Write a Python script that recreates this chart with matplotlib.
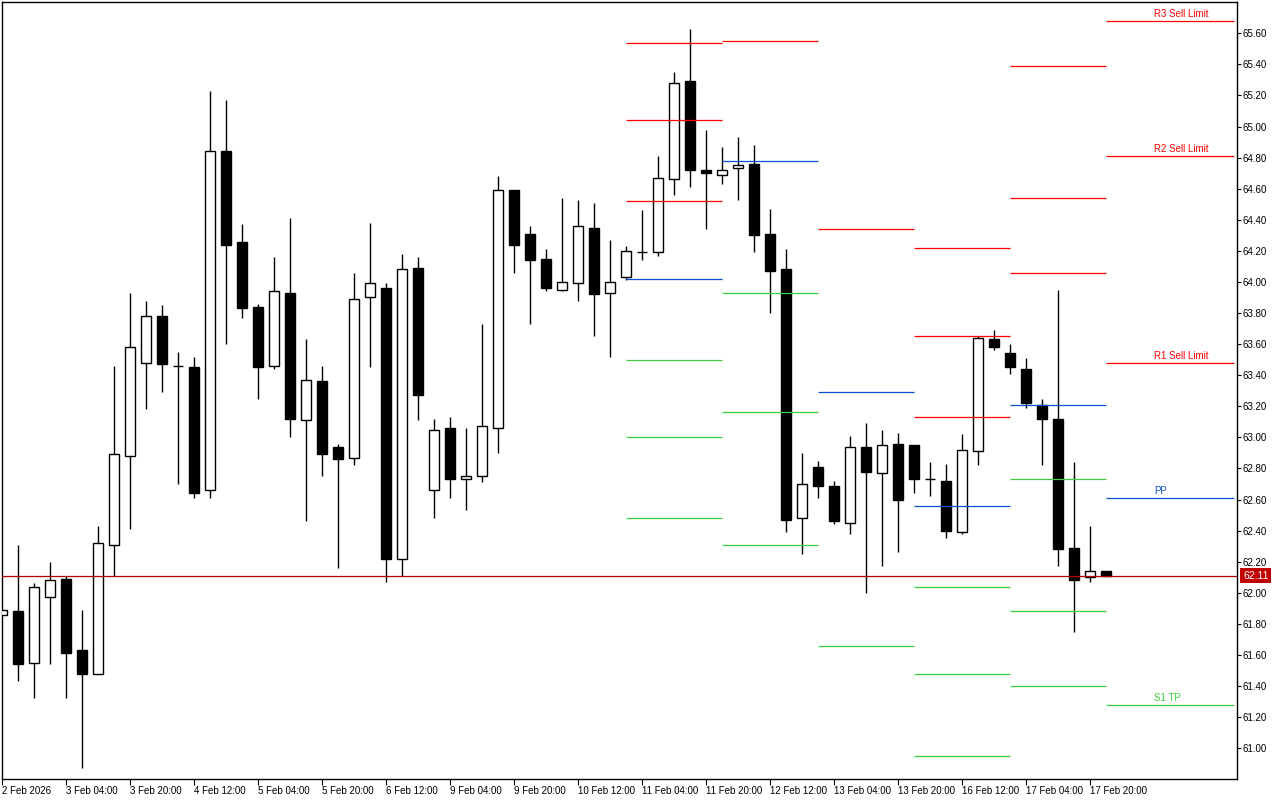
import matplotlib
matplotlib.use("Agg")
import matplotlib.pyplot as plt
from matplotlib.patches import Rectangle
import matplotlib.transforms as mtransforms

# ---------------- data ----------------
opens = [61.86, 61.88, 61.55, 61.97, 62.09, 61.63, 61.48, 62.31, 62.88, 63.48,
         63.78, 63.46, 63.45, 62.66, 64.84, 64.26, 63.84, 63.46, 63.93, 63.11,
         63.36, 62.94, 62.87, 63.90, 63.96, 62.22, 64.09, 62.66, 63.06, 62.73,
         62.75, 63.06, 64.59, 64.31, 64.15, 63.95, 63.99, 64.35, 63.93, 64.03,
         64.19, 64.19, 64.66, 65.29, 64.72, 64.69, 64.73, 64.76, 64.31, 64.08,
         62.48, 62.81, 62.69, 62.45, 62.94, 62.77, 62.96, 62.95, 62.73, 62.72,
         62.39, 62.91, 63.63, 63.54, 63.44, 63.21, 63.12, 62.29, 62.10, 62.14]
highs = [61.89, 62.31, 62.06, 62.20, 62.11, 61.89, 62.43, 63.46, 63.93, 63.88,
         63.85, 63.55, 63.52, 65.23, 65.17, 64.37, 63.86, 64.16, 64.41, 63.63,
         63.46, 62.96, 64.06, 64.38, 63.99, 64.18, 64.16, 63.12, 63.13, 63.06,
         63.73, 64.68, 64.59, 64.36, 64.21, 64.54, 64.53, 64.51, 64.27, 64.23,
         64.46, 64.81, 65.35, 65.63, 64.98, 64.87, 64.93, 64.88, 64.47, 64.21,
         62.90, 62.85, 62.72, 63.01, 63.09, 63.05, 63.03, 62.95, 62.84, 62.83,
         63.02, 63.65, 63.69, 63.60, 63.51, 63.25, 63.95, 62.84, 62.43, 62.14]
lows = [61.86, 61.43, 61.32, 61.54, 61.32, 60.87, 61.48, 62.11, 62.41, 63.18,
        63.29, 62.70, 62.61, 62.61, 63.60, 63.77, 63.25, 63.44, 63.00, 62.46,
        62.75, 62.16, 62.82, 63.45, 62.07, 62.11, 63.11, 62.48, 62.61, 62.53,
        62.71, 62.90, 64.06, 63.73, 63.94, 63.94, 63.88, 63.65, 63.52, 64.01,
        64.14, 64.17, 64.56, 64.61, 64.34, 64.63, 64.53, 64.19, 63.80, 62.39,
        62.25, 62.61, 62.44, 62.38, 62.00, 62.17, 62.26, 62.64, 62.62, 62.35,
        62.38, 62.82, 63.56, 63.41, 63.19, 62.82, 62.17, 61.75, 62.07, 62.11]
closes = [61.89, 61.54, 62.04, 62.08, 61.61, 61.48, 62.32, 62.89, 63.58, 63.78,
          63.47, 63.46, 62.64, 64.84, 64.24, 63.83, 63.45, 63.94, 63.12, 63.37,
          62.89, 62.86, 63.89, 63.99, 62.22, 64.08, 63.27, 63.05, 62.73, 62.75,
          63.07, 64.59, 64.24, 64.14, 63.96, 64.00, 64.36, 63.92, 64.00, 64.20,
          64.19, 64.67, 65.28, 64.72, 64.70, 64.72, 64.75, 64.30, 64.07, 62.47,
          62.70, 62.69, 62.46, 62.94, 62.78, 62.95, 62.60, 62.73, 62.73, 62.40,
          62.92, 63.64, 63.58, 63.45, 63.22, 63.12, 62.28, 62.08, 62.14, 62.11]

x_tick_labels = ["2 Feb 2026", "3 Feb 04:00", "3 Feb 20:00", "4 Feb 12:00",
                 "5 Feb 04:00", "5 Feb 20:00", "6 Feb 12:00", "9 Feb 04:00",
                 "9 Feb 20:00", "10 Feb 12:00", "11 Feb 04:00", "11 Feb 20:00",
                 "12 Feb 12:00", "13 Feb 04:00", "13 Feb 20:00", "16 Feb 12:00",
                 "17 Feb 04:00", "17 Feb 20:00"]

current_price = 62.11

# pivot segments: (start bar, end bar)
segment_bars = [(39, 45), (45, 51), (51, 57), (57, 63), (63, 69), (69, 77)]
resistance_levels = [[65.54, 65.04, 64.52],
                     [65.55],
                     [64.34],
                     [64.22, 63.65, 63.13],
                     [65.39, 64.54, 64.06],
                     [65.68, 64.81, 63.48]]
pivot_levels = [64.02, 64.78, 63.29, 62.56, 63.21, 62.61]
support_levels = [[63.50, 63.00, 62.48],
                  [63.93, 63.16, 62.31],
                  [61.66],
                  [62.04, 61.48, 60.95],
                  [62.73, 61.88, 61.40],
                  [61.28]]
last_labels_res = ["R3 Sell Limit", "R2 Sell Limit", "R1 Sell Limit"]
last_label_pp = "PP"
last_label_sup = ["S1 TP"]

# ---------------- styles ----------------
RED = "#ff0000"
BLUE = "#0a50d2"
GREEN = "#3ccd3c"
PRICE_RED = "#b40000"
FONT = ["Liberation Sans", "DejaVu Sans"]

fig = plt.figure(figsize=(12.8, 8.0), dpi=100)
ax = fig.add_axes([2 / 1280, 21 / 800, 1235 / 1280, 777 / 800])
ax.set_facecolor("white")

body_w = 0.64
for i, (o, h, l, c) in enumerate(zip(opens, highs, lows, closes)):
    ax.vlines(i, l, h, color="black", lw=1.0, zorder=2)
    lo, hi = min(o, c), max(o, c)
    if hi - lo < 0.005:
        ax.hlines(o, i - body_w / 2, i + body_w / 2, color="black", lw=1.0, zorder=3)
    else:
        face = "white" if c > o else "black"
        ax.add_patch(Rectangle((i - body_w / 2, lo), body_w, hi - lo,
                               facecolor=face, edgecolor="black", lw=1.0, zorder=3))

# pivot lines
for (s, e), rs, pp, ss in zip(segment_bars, resistance_levels, pivot_levels, support_levels):
    for r in rs:
        ax.hlines(r, s, e, color=RED, lw=0.9, zorder=4)
    ax.hlines(pp, s, e, color=BLUE, lw=0.9, zorder=4)
    for sp in ss:
        ax.hlines(sp, s, e, color=GREEN, lw=0.9, zorder=4)

# labels on last segment
s_last = segment_bars[-1][0]
lab_x = s_last + 3.0
for txt, r in zip(last_labels_res, resistance_levels[-1]):
    ax.annotate(txt, (lab_x, r), xytext=(0, 1.5), textcoords="offset points",
                color=RED, fontsize=7, family=FONT, va="bottom", ha="left")
ax.annotate(last_label_pp, (lab_x, pivot_levels[-1]), xytext=(0, 1.5), textcoords="offset points",
            color=BLUE, fontsize=7, family=FONT, va="bottom", ha="left")
for txt, sp in zip(last_label_sup, support_levels[-1]):
    ax.annotate(txt, (lab_x, sp), xytext=(0, 1.5), textcoords="offset points",
                color=GREEN, fontsize=7, family=FONT, va="bottom", ha="left")

# current price line
ax.axhline(current_price, color=PRICE_RED, lw=0.9, zorder=5)
trans = mtransforms.blended_transform_factory(ax.transAxes, ax.transData)
ax.text(1.0 + 6 / 1235, current_price, f"{current_price:.2f}", transform=trans,
        color="white", fontsize=7.5, family=FONT, ha="left", va="center", clip_on=False,
        bbox=dict(facecolor="#c00000", edgecolor="none", boxstyle="square,pad=0.25"))

# axes
ax.set_xlim(0, 77.19)
ax.set_ylim(60.802, 65.801)

yt = [round(61.0 + 0.2 * k, 2) for k in range(24)]
ax.set_yticks(yt)
ax.set_yticklabels([f"{v:.2f}" for v in yt], family=FONT, fontsize=7)
ax.yaxis.tick_right()
ax.tick_params(axis="y", direction="out", length=3, width=0.8, pad=1)

ax.set_xticks(list(range(0, 4 * len(x_tick_labels), 4)))
ax.set_xticklabels(x_tick_labels, family=FONT, fontsize=7, ha="left")
ax.tick_params(axis="x", direction="out", length=4, width=0.8, pad=1)

for sp in ax.spines.values():
    sp.set_color("black")
    sp.set_linewidth(1.0)

fig.savefig("out.png", dpi=100, facecolor="white")
